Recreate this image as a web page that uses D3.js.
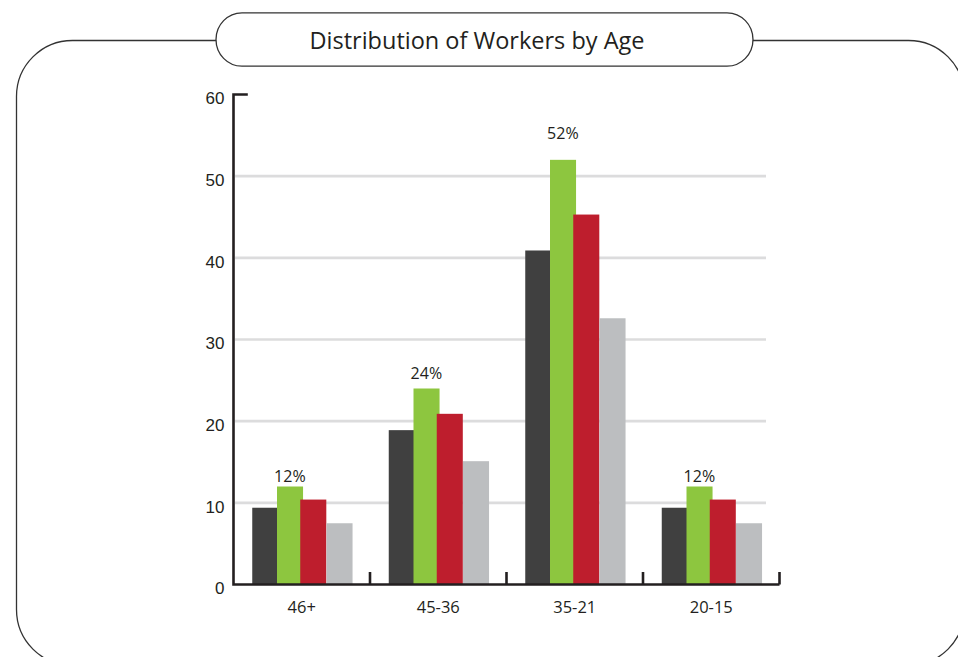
<!DOCTYPE html>
<html>
<head>
<meta charset="utf-8">
<script src="https://cdn.jsdelivr.net/npm/d3@7"></script>
<style>
html,body{margin:0;padding:0;background:#fff;}
svg{display:block;}
</style>
</head>
<body>
<svg id="chart" width="958" height="657"></svg>
<script>
const title = "Distribution of Workers by Age";
const categories = ["46+", "45-36", "35-21", "20-15"];
const seriesNames = ["s1", "s2", "s3", "s4"];
const darkValues  = [9.4, 18.9, 40.9, 9.4];
const greenValues = [12, 24, 52, 12];
const redValues   = [10.4, 20.9, 45.3, 10.4];
const grayValues  = [7.5, 15.1, 32.6, 7.5];
const labelValues = [12, 24, 52, 12];
const labelTexts  = ["12%", "24%", "52%", "12%"];
const yTicks = [0, 10, 20, 30, 40, 50, 60];
const colors = ["#404040", "#8dc63f", "#be1e2d", "#bcbec0"];

const seriesValues = [darkValues, greenValues, redValues, grayValues];

const svg = d3.select("#chart");
const axisColor = "#231f20";

// outer frame
svg.append("rect")
  .attr("x", 16.5).attr("y", 40.5)
  .attr("width", 948).attr("height", 625)
  .attr("rx", 56).attr("ry", 56)
  .attr("fill", "none").attr("stroke", "#333").attr("stroke-width", 1.3);

// title pill
svg.append("rect")
  .attr("x", 216).attr("y", 12.8)
  .attr("width", 537).attr("height", 53.4)
  .attr("rx", 26).attr("ry", 26.7)
  .attr("fill", "#fff").attr("stroke", "#333").attr("stroke-width", 1.3);

svg.append("text")
  .attr("x", 477).attr("y", 48.5)
  .attr("text-anchor", "middle")
  .attr("font-family", "'Open Sans', sans-serif")
  .attr("font-size", 23.5)
  .attr("fill", "#231f20")
  .text(title);

const y = d3.scaleLinear().domain([0, 60]).range([584.5, 94.5]);
const x = d3.scaleBand().domain(categories).range([233.5, 779.5]).padding(0);
const groupW = 99;
const xInner = d3.scaleBand().domain(seriesNames)
  .range([x.bandwidth() / 2 - groupW / 2, x.bandwidth() / 2 + groupW / 2]).padding(0);

// gridlines
svg.append("g").selectAll("line")
  .data(yTicks.filter(d => d > 0 && d < 60))
  .join("line")
  .attr("x1", 235).attr("x2", 766)
  .attr("y1", d => y(d)).attr("y2", d => y(d))
  .attr("stroke", "#dcdcdd").attr("stroke-width", 2.6);

// bars
const data = [];
categories.forEach((c, i) => {
  seriesNames.forEach((s, j) => {
    data.push({cat: c, series: s, j: j, value: seriesValues[j][i]});
  });
});
svg.append("g").selectAll("rect")
  .data(data)
  .join("rect")
  .attr("x", d => x(d.cat) + xInner(d.series) - (d.j === 2 ? 1.5 : 0))
  .attr("width", d => xInner.bandwidth() + 1.3)
  .attr("y", d => y(d.value))
  .attr("height", d => y(0) - y(d.value))
  .attr("fill", d => colors[d.j]);

// value labels above green bars
svg.append("g").selectAll("text")
  .data(categories)
  .join("text")
  .attr("x", (c) => x(c) + xInner("s2") + xInner.bandwidth() / 2 + 0.5)
  .attr("y", (c, i) => y(labelValues[i] * 1.048))
  .attr("text-anchor", "middle")
  .attr("font-family", "'Open Sans', sans-serif")
  .attr("font-size", 16)
  .attr("fill", "#231f20")
  .text((c, i) => labelTexts[i]);

// y axis
const yAxis = d3.axisLeft(y).tickValues(yTicks).tickSize(0).tickPadding(9);
const gy = svg.append("g").attr("transform", "translate(233.5,0)").call(yAxis);
gy.select(".domain").remove();
gy.selectAll("text")
  .attr("font-family", "'Liberation Sans', Arial, sans-serif")
  .attr("font-size", 17)
  .attr("fill", axisColor)
  .attr("dy", "0.55em");

// x axis labels
const xAxis = d3.axisBottom(x).tickSize(0).tickPadding(17);
const gx = svg.append("g").attr("transform", "translate(0,584.5)").call(xAxis);
gx.select(".domain").remove();
gx.selectAll("text")
  .attr("font-family", "'Open Sans', sans-serif")
  .attr("font-size", 16.5)
  .attr("fill", "#231f20");

// axis lines
const axes = svg.append("g").attr("stroke", axisColor).attr("stroke-width", 2.6).attr("fill", "none");
axes.append("path")
  .attr("d", `M${247.8},${y(60)}H${233.5}V${y(0)}H${x.range()[1]}`);
// boundary ticks on x axis
axes.selectAll("line.bt")
  .data(categories)
  .join("line")
  .attr("class", "bt")
  .attr("x1", c => x(c) + x.bandwidth()).attr("x2", c => x(c) + x.bandwidth())
  .attr("y1", y(0)).attr("y2", y(0) - 12.5);
</script>
</body>
</html>
